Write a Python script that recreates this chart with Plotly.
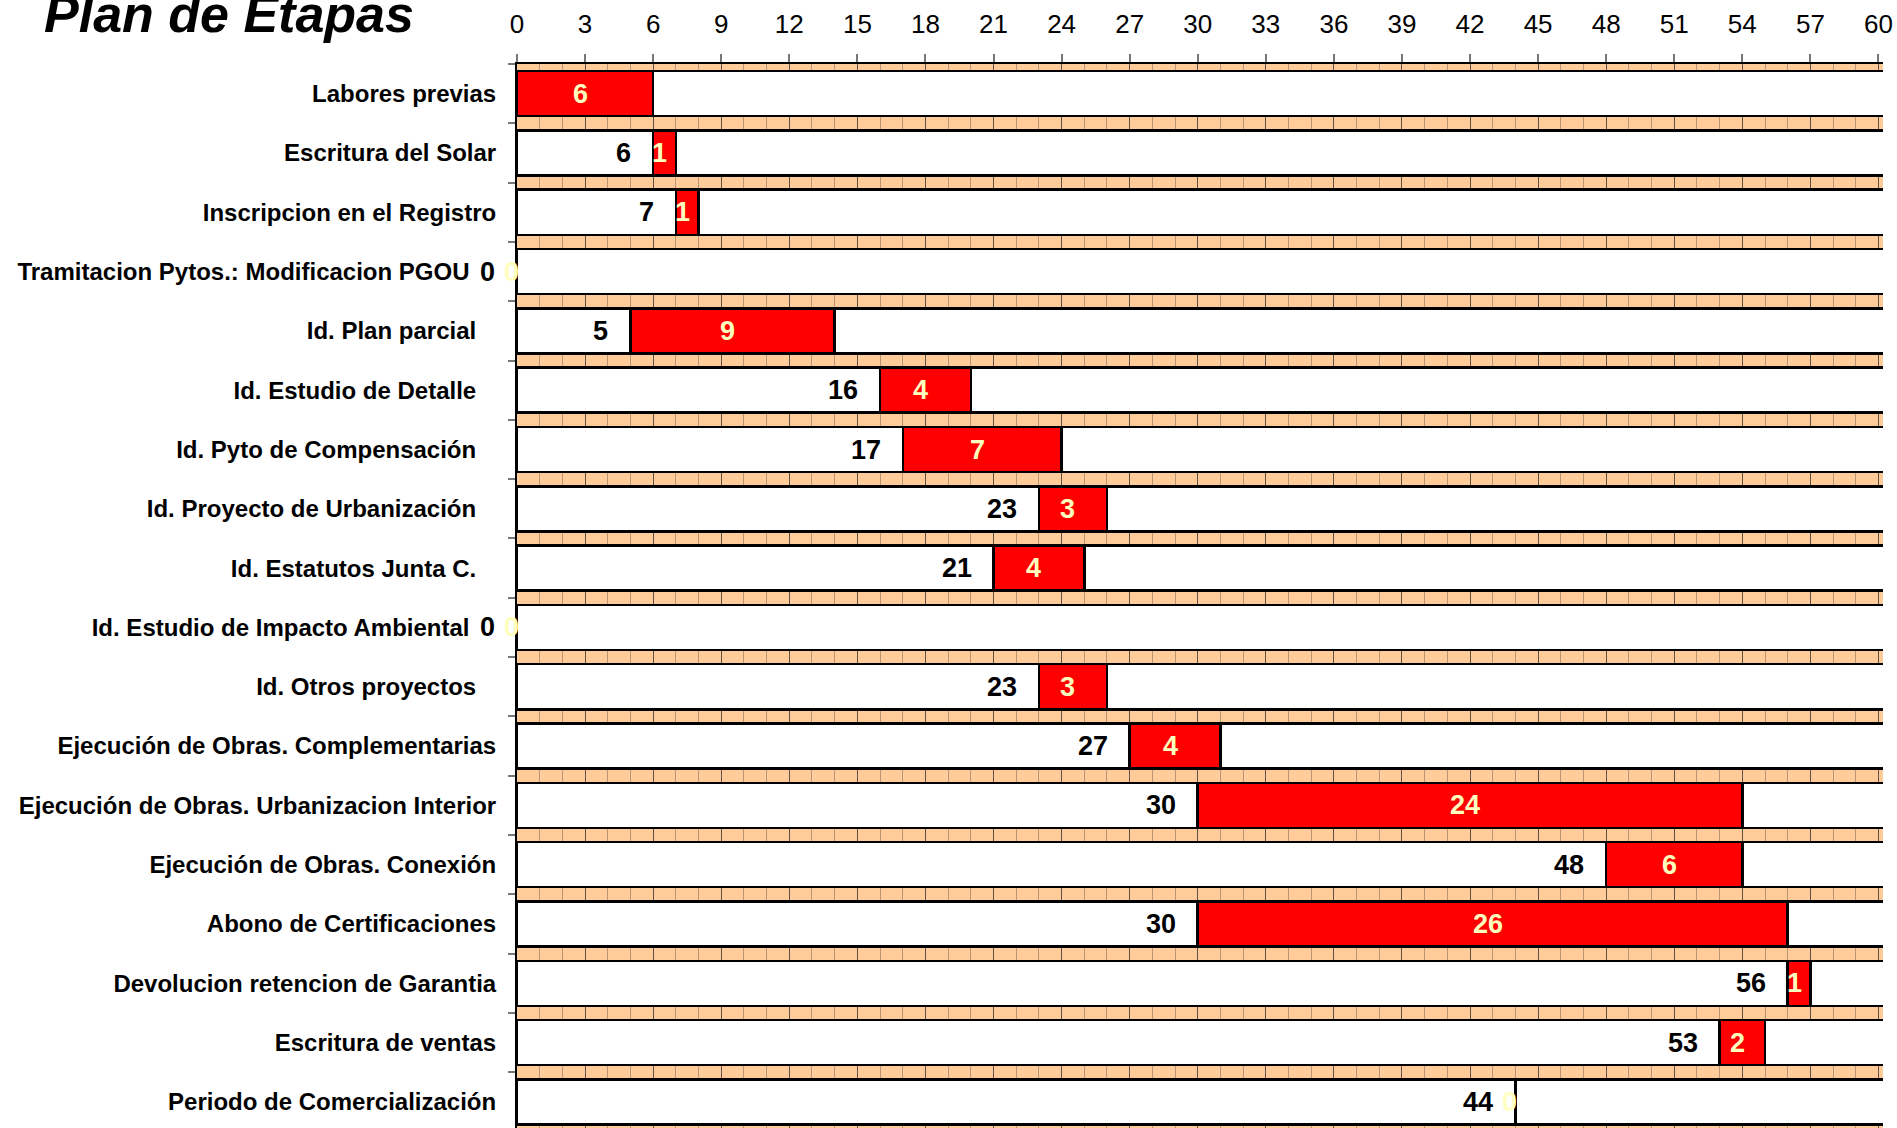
import plotly.graph_objects as go

# ---- data ----
tasks = [
    "Labores previas",
    "Escritura del Solar",
    "Inscripcion en el Registro",
    "Tramitacion Pytos.: Modificacion PGOU",
    "Id. Plan parcial",
    "Id. Estudio de Detalle",
    "Id. Pyto de Compensación",
    "Id. Proyecto de Urbanización",
    "Id. Estatutos Junta C.",
    "Id. Estudio de Impacto Ambiental",
    "Id. Otros proyectos",
    "Ejecución de Obras. Complementarias",
    "Ejecución de Obras. Urbanizacion Interior",
    "Ejecución de Obras. Conexión",
    "Abono de Certificaciones",
    "Devolucion retencion de Garantia",
    "Escritura de ventas",
    "Periodo de Comercialización",
]
label_padding = [0, 0, 0, 4, 3, 3, 3, 3, 3, 4, 3, 0, 0, 0, 0, 0, 0, 0]
start = [0, 6, 7, 0, 5, 16, 17, 23, 21, 0, 23, 27, 30, 48, 30, 56, 53, 44]
duration = [6, 1, 1, 0, 9, 4, 7, 3, 4, 0, 3, 4, 24, 6, 26, 1, 2, 0]
show_start_label = [False] + [True] * 17
horizon = 60
tick_step = 3

# ---- styles ----
FONT = "Liberation Sans, Arial, sans-serif"
PEACH = "#FFCC99"
RED = "#FF0000"
YELLOW = "#FFFFC0"

labels = [t + "\u00a0" * p for t, p in zip(tasks, label_padding)]
rest = [horizon + 1 - s - d for s, d in zip(start, duration)]

fig = go.Figure()
common = dict(orientation="h", y=labels, hoverinfo="skip",
              marker_line_color="black", marker_line_width=2.5)
fig.add_trace(go.Bar(x=start, marker_color="white", **common))
fig.add_trace(go.Bar(x=duration, marker_color=RED, **common))
fig.add_trace(go.Bar(x=rest, marker_color="white", **common))

annotations = []
for lab, s, d, show in zip(labels, start, duration, show_start_label):
    if show:
        annotations.append(dict(x=s, y=lab, xref="x", yref="y", text=str(s),
                                showarrow=False, xanchor="right", xshift=-20,
                                font=dict(family=FONT, size=27, color="black", weight="bold")))
    annotations.append(dict(x=s + d / 2, y=lab, xref="x", yref="y", text=str(d),
                            showarrow=False, xanchor="center", xshift=-5 if d > 0 else -6,
                            font=dict(family=FONT, size=27, color=YELLOW, weight="bold")))

annotations.append(dict(text="<b><i>Plan de Etapas</i></b>", xref="paper", yref="paper",
                        x=-0.348, y=1.047, xanchor="left", yanchor="middle",
                        showarrow=False, font=dict(family=FONT, size=52, color="black")))

fig.update_layout(
    width=1897, height=1128,
    margin=dict(l=517, r=14, t=64, b=0),
    barmode="stack", bargap=0.24,
    showlegend=False,
    plot_bgcolor=PEACH, paper_bgcolor="white",
    font=dict(family=FONT, color="black"),
    annotations=annotations,
)
fig.update_xaxes(
    side="top", range=[0, horizon + 0.2],
    tickmode="linear", tick0=0, dtick=tick_step,
    showgrid=True, gridcolor="#5e5044", gridwidth=1,
    minor=dict(dtick=1, showgrid=True, gridcolor="#b89472", gridwidth=1),
    showline=True, linecolor="black", linewidth=2,
    ticks="outside", ticklen=8, tickcolor="#777", tickwidth=2,
    ticklabelstandoff=11,
    tickfont=dict(family=FONT, size=26, color="black"),
    zeroline=False,
)
fig.update_yaxes(
    type="category", categoryorder="array", categoryarray=labels,
    range=[len(labels) - 0.56, -0.5],
    showline=True, linecolor="black", linewidth=2,
    ticks="outside", tickson="boundaries", ticklen=7, tickcolor="#777", tickwidth=2,
    ticklabelstandoff=14,
    tickfont=dict(family=FONT, size=24, color="black", weight="bold"),
    showgrid=False,
)

fig.write_html("out.html")
